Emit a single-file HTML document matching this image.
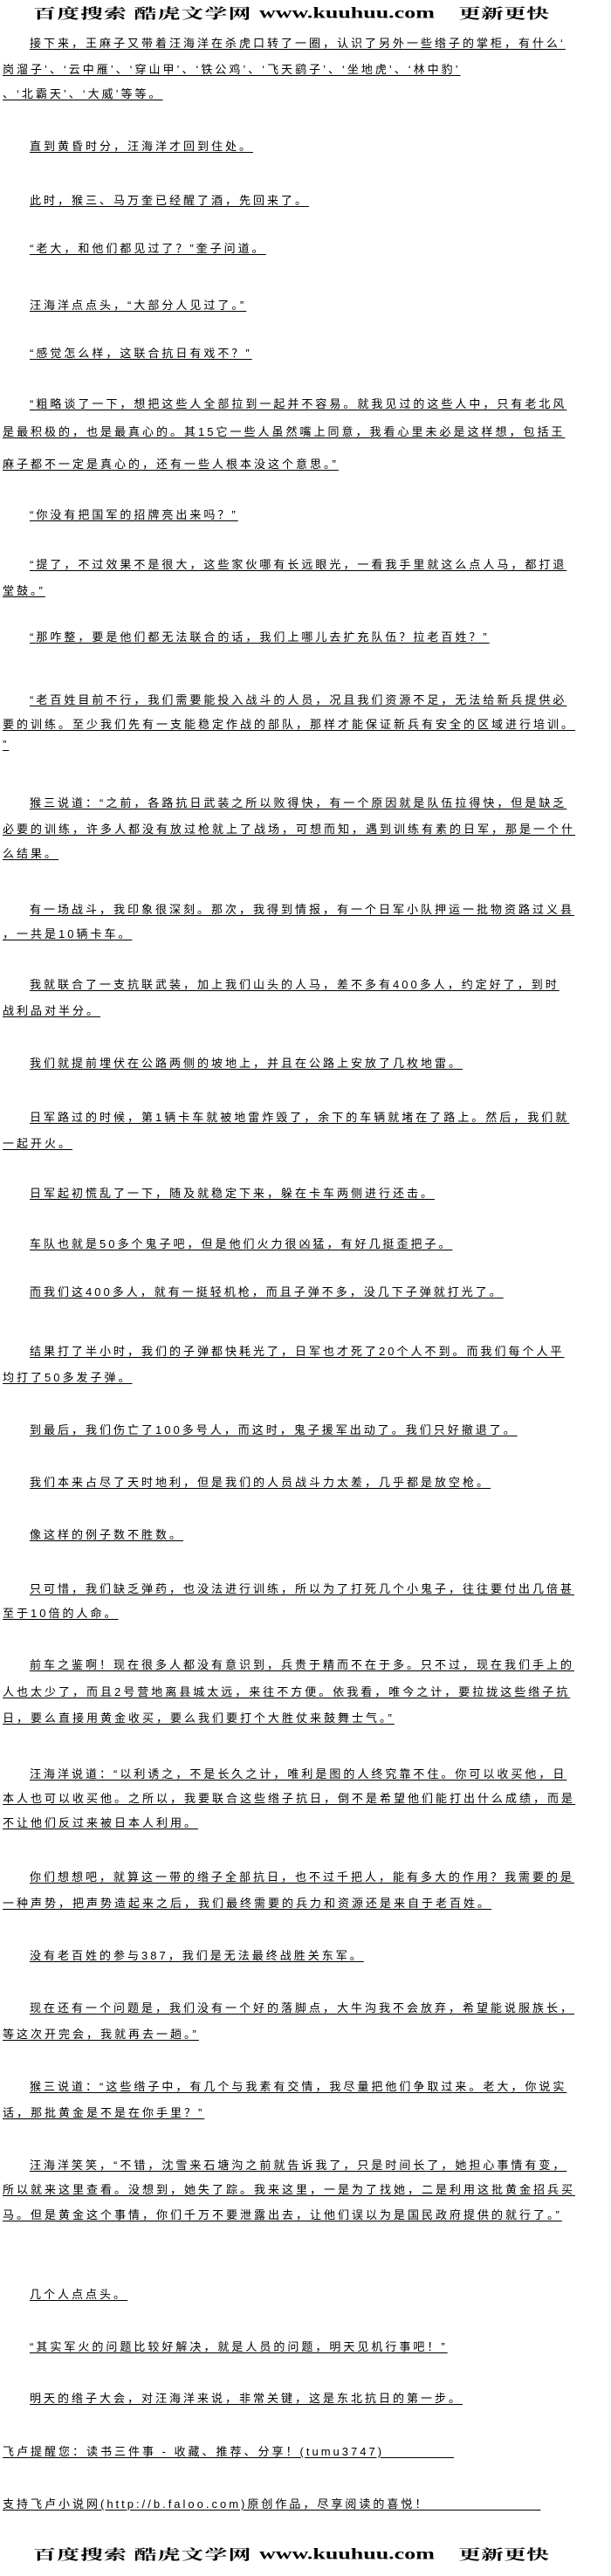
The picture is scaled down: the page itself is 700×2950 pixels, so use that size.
<!DOCTYPE html>
<html><head><meta charset="utf-8">
<style>
html,body{margin:0;padding:0;background:#fff;}
body{width:700px;height:2950px;position:relative;overflow:hidden;}
.l{position:absolute;left:3px;height:20px;line-height:20px;white-space:nowrap;font-family:"Liberation Sans","Noto Sans CJK SC","WenQuanYi Zen Hei",sans-serif;font-size:13px;letter-spacing:3px;color:#000;text-decoration:underline;text-underline-offset:2px;}
.i{left:34px;}
.h{position:absolute;left:0;width:700px;height:30px;}
.h span{position:absolute;top:0;line-height:30px;white-space:nowrap;font-weight:bold;color:#000;transform-origin:0 50%;}
.h .c{font-family:"Noto Serif CJK SC","Liberation Serif",serif;font-size:26px;transform:scaleY(0.62);}
.h .w{font-family:"Liberation Serif",serif;font-size:26px;transform:scaleY(0.7);}
</style></head><body>
<div class="h" style="top:0px"><span class="c" style="left:38px;letter-spacing:1px">百度搜索 酷虎文学网</span><span class="w" style="left:297px">www.kuuhuu.com</span><span class="c" style="left:525px">更新更快</span></div>

<div class="l i" style="top:40px">接下来，王麻子又带着汪海洋在杀虎口转了一圈，认识了另外一些绺子的掌柜，有什么‘</div>
<div class="l" style="top:70px">岗溜子’、‘云中雁’、‘穿山甲’、‘铁公鸡’、‘飞天鹞子’、‘坐地虎’、‘林中豹’</div>
<div class="l" style="top:98px">、‘北霸天’、‘大威’等等。</div>
<div class="l i" style="top:158px">直到黄昏时分，汪海洋才回到住处。</div>
<div class="l i" style="top:220px">此时，猴三、马万奎已经醒了酒，先回来了。</div>
<div class="l i" style="top:275px">“老大，和他们都见过了？”奎子问道。</div>
<div class="l i" style="top:340px">汪海洋点点头，“大部分人见过了。”</div>
<div class="l i" style="top:395px">“感觉怎么样，这联合抗日有戏不？”</div>
<div class="l i" style="top:453px">“粗略谈了一下，想把这些人全部拉到一起并不容易。就我见过的这些人中，只有老北风</div>
<div class="l" style="top:485px">是最积极的，也是最真心的。其15它一些人虽然嘴上同意，我看心里未必是这样想，包括王</div>
<div class="l" style="top:522px">麻子都不一定是真心的，还有一些人根本没这个意思。”</div>
<div class="l i" style="top:580px">“你没有把国军的招牌亮出来吗？”</div>
<div class="l i" style="top:637px">“提了，不过效果不是很大，这些家伙哪有长远眼光，一看我手里就这么点人马，都打退</div>
<div class="l" style="top:667px">堂鼓。”</div>
<div class="l i" style="top:720px">“那咋整，要是他们都无法联合的话，我们上哪儿去扩充队伍？拉老百姓？”</div>
<div class="l i" style="top:792px">“老百姓目前不行，我们需要能投入战斗的人员，况且我们资源不足，无法给新兵提供必</div>
<div class="l" style="top:820px">要的训练。至少我们先有一支能稳定作战的部队，那样才能保证新兵有安全的区域进行培训。</div>
<div class="l" style="top:843px">”</div>
<div class="l i" style="top:910px">猴三说道：“之前，各路抗日武装之所以败得快，有一个原因就是队伍拉得快，但是缺乏</div>
<div class="l" style="top:940px">必要的训练，许多人都没有放过枪就上了战场，可想而知，遇到训练有素的日军，那是一个什</div>
<div class="l" style="top:968px">么结果。</div>
<div class="l i" style="top:1032px">有一场战斗，我印象很深刻。那次，我得到情报，有一个日军小队押运一批物资路过义县</div>
<div class="l" style="top:1060px">，一共是10辆卡车。</div>
<div class="l i" style="top:1118px">我就联合了一支抗联武装，加上我们山头的人马，差不多有400多人，约定好了，到时</div>
<div class="l" style="top:1148px">战利品对半分。</div>
<div class="l i" style="top:1208px">我们就提前埋伏在公路两侧的坡地上，并且在公路上安放了几枚地雷。</div>
<div class="l i" style="top:1270px">日军路过的时候，第1辆卡车就被地雷炸毁了，余下的车辆就堵在了路上。然后，我们就</div>
<div class="l" style="top:1300px">一起开火。</div>
<div class="l i" style="top:1357px">日军起初慌乱了一下，随及就稳定下来，躲在卡车两侧进行还击。</div>
<div class="l i" style="top:1415px">车队也就是50多个鬼子吧，但是他们火力很凶猛，有好几挺歪把子。</div>
<div class="l i" style="top:1470px">而我们这400多人，就有一挺轻机枪，而且子弹不多，没几下子弹就打光了。</div>
<div class="l i" style="top:1538px">结果打了半小时，我们的子弹都快耗光了，日军也才死了20个人不到。而我们每个人平</div>
<div class="l" style="top:1568px">均打了50多发子弹。</div>
<div class="l i" style="top:1628px">到最后，我们伤亡了100多号人，而这时，鬼子援军出动了。我们只好撤退了。</div>
<div class="l i" style="top:1688px">我们本来占尽了天时地利，但是我们的人员战斗力太差，几乎都是放空枪。</div>
<div class="l i" style="top:1748px">像这样的例子数不胜数。</div>
<div class="l i" style="top:1810px">只可惜，我们缺乏弹药，也没法进行训练，所以为了打死几个小鬼子，往往要付出几倍甚</div>
<div class="l" style="top:1838px">至于10倍的人命。</div>
<div class="l i" style="top:1897px">前车之鉴啊！现在很多人都没有意识到，兵贵于精而不在于多。只不过，现在我们手上的</div>
<div class="l" style="top:1928px">人也太少了，而且2号营地离县城太远，来往不方便。依我看，唯今之计，要拉拢这些绺子抗</div>
<div class="l" style="top:1958px">日，要么直接用黄金收买，要么我们要打个大胜仗来鼓舞士气。”</div>
<div class="l i" style="top:2022px">汪海洋说道：“以利诱之，不是长久之计，唯利是图的人终究靠不住。你可以收买他，日</div>
<div class="l" style="top:2050px">本人也可以收买他。之所以，我要联合这些绺子抗日，倒不是希望他们能打出什么成绩，而是</div>
<div class="l" style="top:2078px">不让他们反过来被日本人利用。</div>
<div class="l i" style="top:2140px">你们想想吧，就算这一带的绺子全部抗日，也不过千把人，能有多大的作用？我需要的是</div>
<div class="l" style="top:2170px">一种声势，把声势造起来之后，我们最终需要的兵力和资源还是来自于老百姓。</div>
<div class="l i" style="top:2230px">没有老百姓的参与387，我们是无法最终战胜关东军。</div>
<div class="l i" style="top:2290px">现在还有一个问题是，我们没有一个好的落脚点，大牛沟我不会放弃，希望能说服族长，</div>
<div class="l" style="top:2320px">等这次开完会，我就再去一趟。”</div>
<div class="l i" style="top:2380px">猴三说道：“这些绺子中，有几个与我素有交情，我尽量把他们争取过来。老大，你说实</div>
<div class="l" style="top:2410px">话，那批黄金是不是在你手里？”</div>
<div class="l i" style="top:2470px">汪海洋笑笑，“不错，沈雪来石塘沟之前就告诉我了，只是时间长了，她担心事情有变，</div>
<div class="l" style="top:2498px">所以就来这里查看。没想到，她失了踪。我来这里，一是为了找她，二是利用这批黄金招兵买</div>
<div class="l" style="top:2527px">马。但是黄金这个事情，你们千万不要泄露出去，让他们误以为是国民政府提供的就行了。”</div>
<div class="l i" style="top:2618px">几个人点点头。</div>
<div class="l i" style="top:2678px">“其实军火的问题比较好解决，就是人员的问题，明天见机行事吧！”</div>
<div class="l i" style="top:2737px">明天的绺子大会，对汪海洋来说，非常关键，这是东北抗日的第一步。</div>
<div class="l" style="top:2798px">飞卢提醒您：读书三件事 - 收藏、推荐、分享！(tumu3747)　　　　　</div>
<div class="l" style="top:2858px">支持飞卢小说网(http://b.faloo.com)原创作品，尽享阅读的喜悦！　　　　　　　　</div>

<div class="h" style="top:2910px"><span class="c" style="left:38px;letter-spacing:1px">百度搜索 酷虎文学网</span><span class="w" style="left:297px">www.kuuhuu.com</span><span class="c" style="left:525px">更新更快</span></div>
</body></html>
